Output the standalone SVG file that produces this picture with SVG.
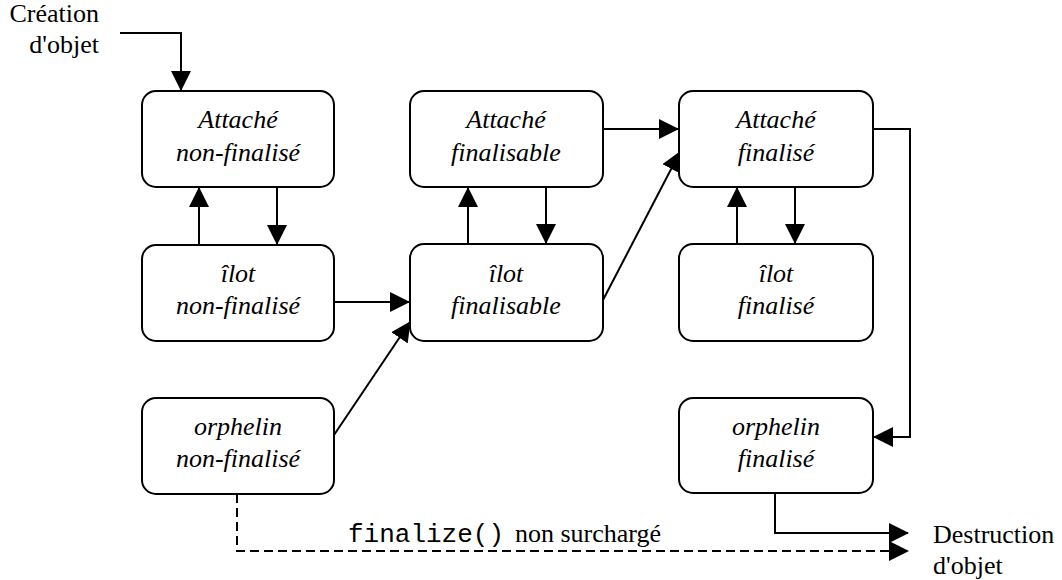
<svg xmlns="http://www.w3.org/2000/svg" width="1062" height="580" viewBox="0 0 1062 580">
<style>
.box{fill:#fff;stroke:#000;stroke-width:2}
.nt{font-family:'Liberation Serif',serif;font-style:italic;font-size:26px;text-anchor:middle;fill:#000}
.lb{font-family:'Liberation Serif',serif;font-size:26px;fill:#000}
.mono{font-family:'Liberation Mono',monospace;font-size:26px;fill:#000}
.c{fill:none;stroke:#000;stroke-width:2;marker-end:url(#ah)}
.d{stroke-dasharray:9,5}
</style>
<defs>
<marker id="ah" viewBox="0 0 20 20" refX="19" refY="10" markerWidth="20" markerHeight="20" markerUnits="userSpaceOnUse" orient="auto">
<path d="M0,0 L20,10 L0,20 z" fill="#000"/>
</marker>
</defs>
<g id="connectors">
<path class="c" d="M120,33 H181 V90"/>
<path class="c" d="M199,245 V188"/>
<path class="c" d="M277,187 V244"/>
<path class="c" d="M468,244 V188"/>
<path class="c" d="M546,187 V243"/>
<path class="c" d="M737,244 V188"/>
<path class="c" d="M795,187 V243"/>
<path class="c" d="M603,129 H678"/>
<path class="c" d="M603,300 L680,152"/>
<path class="c" d="M334,302 H409"/>
<path class="c" d="M334,435 L410,322"/>
<path class="c" d="M873,129 H910 V437 H874"/>
<path class="c" d="M775,493 V533 H908"/>
<path class="c d" d="M237,494 V551 H908"/>
</g>
<g id="n1"><rect class="box" x="142" y="91" width="192" height="96" rx="14"/><text class="nt" x="238" y="128" font-family="Liberation Serif">Attaché</text><text class="nt" x="238" y="161" font-family="Liberation Serif">non-finalisé</text></g>
<g id="n2"><rect class="box" x="410" y="91" width="193" height="96" rx="14"/><text class="nt" x="506" y="128" font-family="Liberation Serif">Attaché</text><text class="nt" x="506" y="161" font-family="Liberation Serif">finalisable</text></g>
<g id="n3"><rect class="box" x="679" y="91" width="194" height="96" rx="14"/><text class="nt" x="776" y="128" font-family="Liberation Serif">Attaché</text><text class="nt" x="776" y="161" font-family="Liberation Serif">finalisé</text></g>
<g id="n4"><rect class="box" x="142" y="245" width="192" height="96" rx="14"/><text class="nt" x="238" y="282" font-family="Liberation Serif">îlot</text><text class="nt" x="238" y="314" font-family="Liberation Serif">non-finalisé</text></g>
<g id="n5"><rect class="box" x="410" y="244" width="193" height="97" rx="14"/><text class="nt" x="506" y="282" font-family="Liberation Serif">îlot</text><text class="nt" x="506" y="314" font-family="Liberation Serif">finalisable</text></g>
<g id="n6"><rect class="box" x="679" y="244" width="194" height="97" rx="14"/><text class="nt" x="776" y="282" font-family="Liberation Serif">îlot</text><text class="nt" x="776" y="314" font-family="Liberation Serif">finalisé</text></g>
<g id="n7"><rect class="box" x="142" y="398" width="192" height="96" rx="14"/><text class="nt" x="238" y="435" font-family="Liberation Serif">orphelin</text><text class="nt" x="238" y="467" font-family="Liberation Serif">non-finalisé</text></g>
<g id="n8"><rect class="box" x="679" y="398" width="194" height="95" rx="14"/><text class="nt" x="776" y="435" font-family="Liberation Serif">orphelin</text><text class="nt" x="776" y="467" font-family="Liberation Serif">finalisé</text></g>
<g id="labels">
<text class="lb" x="99" y="22" text-anchor="end" font-family="Liberation Serif">Création</text>
<text class="lb" x="99" y="53" text-anchor="end" font-family="Liberation Serif">d'objet</text>
<text class="lb" x="933" y="543" font-family="Liberation Serif">Destruction</text>
<text class="lb" x="933" y="574" font-family="Liberation Serif">d'objet</text>
<text class="mono" x="348" y="542" font-family="Liberation Mono">finalize()</text>
<text class="lb" x="515" y="542" font-family="Liberation Serif">non surchargé</text>
</g>
</svg>
